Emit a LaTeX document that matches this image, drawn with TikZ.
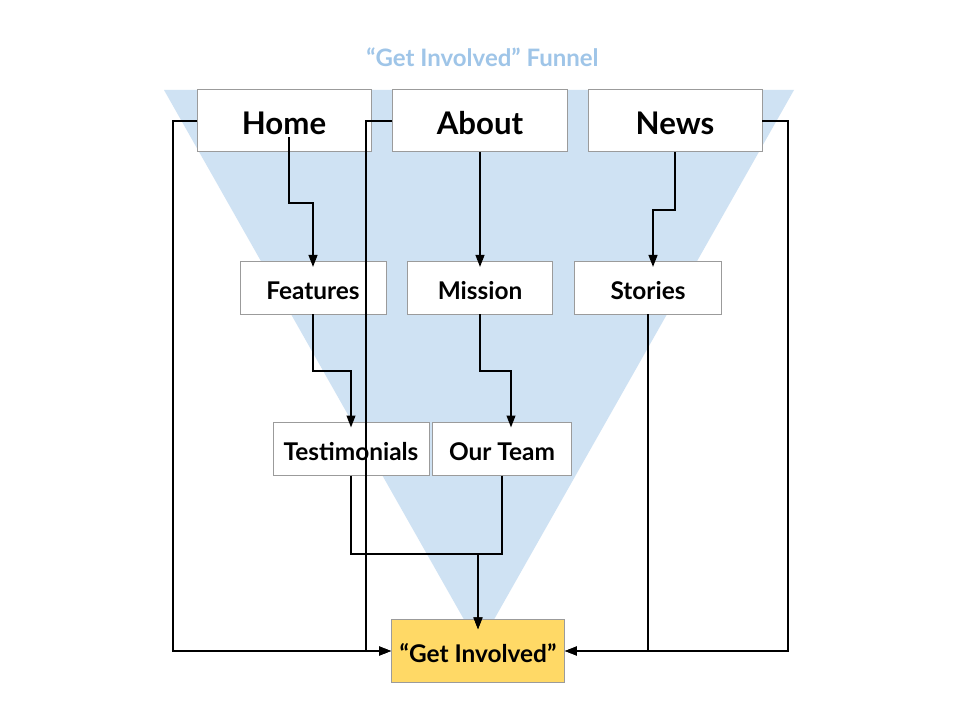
\documentclass[tikz,border=0pt]{standalone}
\usepackage{fontspec}
\setmainfont{Lato}
\usetikzlibrary{arrows.meta,calc}
\definecolor{funnelblue}{HTML}{CFE2F3}
\definecolor{titleblue}{HTML}{9FC5E8}
\definecolor{boxline}{HTML}{9B9B9B}
\definecolor{goalfill}{HTML}{FFD966}
\begin{document}
\begin{tikzpicture}[x=0.75pt,y=-0.75pt,
  page/.style={inner sep=0pt,outer sep=0pt,draw=boxline,line width=0.75pt,fill=white,align=center},
  bigbox/.style={page,minimum height=46.5pt,text height=20.9pt,text depth=0pt,
    font=\bfseries\fontsize{23.4}{27}\selectfont},
  smallbox/.style={page,minimum height=39pt,text height=16.9pt,text depth=0pt,
    font=\bfseries\fontsize{18.3}{22}\selectfont},
  goalbox/.style={smallbox,fill=goalfill,minimum height=47.5pt,minimum width=130.2pt},
  conn/.style={draw=black,line width=1.5pt},
  arrow/.style={conn,-{Triangle[length=9pt,width=6.5pt]}}]
\useasboundingbox (0,0) rectangle (960,720);
\fill[white] (0,0) rectangle (960,720);

% funnel backdrop and heading
\fill[funnelblue] (164,90) -- (794,90) -- (479,646) -- cycle;
\node[anchor=base,inner sep=0pt,text=titleblue,font=\bfseries\fontsize{18}{22}\selectfont]
  (title) at (482.5,66.7) {“Get Involved” Funnel};

% top-level pages
\node[bigbox,minimum width=130.5pt] (home)  at (284,121)   {Home};
\node[bigbox,minimum width=131.6pt] (about) at (480,121)   {About};
\node[bigbox,minimum width=130.5pt] (news)  at (675,121)   {News};

% second level
\node[smallbox,minimum width=109.5pt] (feat)    at (313,288) {Features};
\node[smallbox,minimum width=109pt]   (mission) at (480,288) {Mission};
\node[smallbox,minimum width=109.8pt] (stories) at (648,288) {Stories};

% third level
\node[smallbox,minimum width=117pt,minimum height=39.75pt]   (testi) at (351,449) {Testimonials};
\node[smallbox,minimum width=103.8pt,minimum height=39.75pt] (team)  at (502,449) {Our Team};

% goal
\node[goalbox] (goal) at (478,651) {“Get Involved”};

% page-to-page connectors
\draw[arrow] ($(home.south)+(5,-15)$) -- ++(0,66) -| ($(feat.north)+(0,5)$);
\draw[arrow] (about.south) -- ($(mission.north)+(0,5)$);
\draw[arrow] (news.south) -- ++(0,58) -| ($(stories.north)+(5,5)$);
\draw[arrow] (feat.south) -- ++(0,57) -| ($(testi.north)+(0,5)$);
\draw[arrow] (mission.south) -- ++(0,57) -| ($(team.north)+(9,5)$);
\draw[arrow] (testi.south) -- ++(0,78) -| ($(goal.north)+(0,10)$);
\draw[arrow] (team.south) -- ++(0,78) -| ($(goal.north)+(0,10)$);

% direct routes into the goal
\draw[arrow] (home.west) -- ++(-24,0) |- (goal.west);
\draw[arrow] (about.west) -- ++(-26,0) |- (goal.west);
\draw[arrow] (stories.south) |- (goal.east);
\draw[arrow] (news.east) -- ++(26,0) |- (goal.east);
\end{tikzpicture}
\end{document}
